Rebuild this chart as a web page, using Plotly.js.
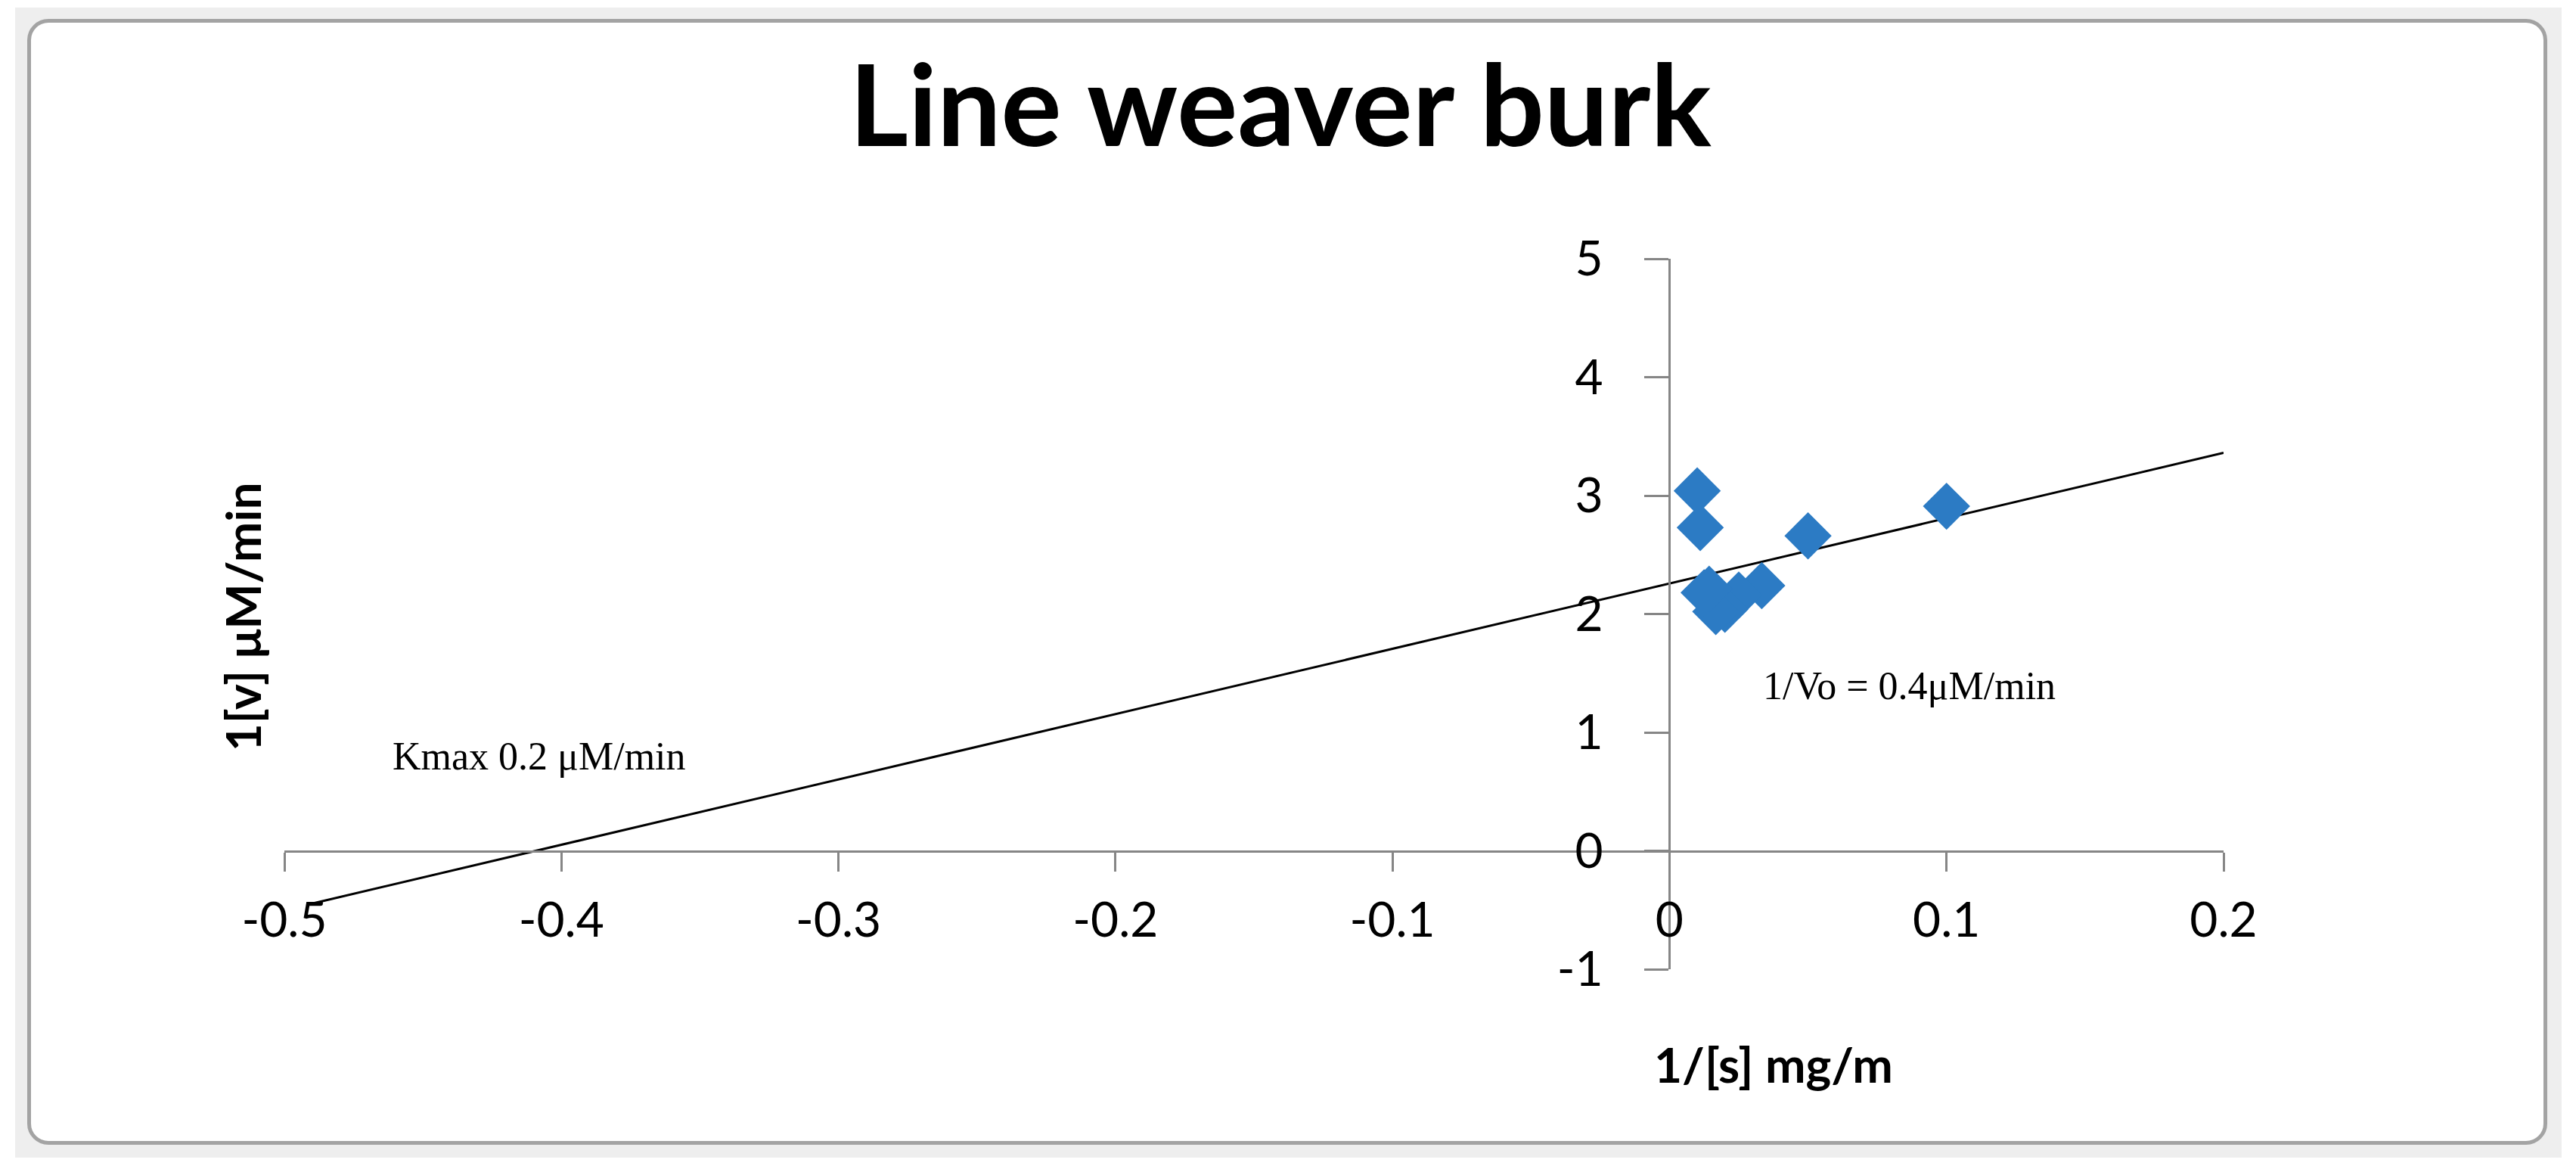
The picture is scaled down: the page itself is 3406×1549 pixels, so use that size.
<!DOCTYPE html>
<html>
<head>
<meta charset="utf-8">
<script src="https://cdn.plot.ly/plotly-3.0.1.min.js"></script>
<style>
    html, body { margin: 0; padding: 0; background: #ffffff; }
    #sheet {
        position: absolute; left: 20px; top: 10px;
        width: 3367px; height: 1520px;
        background: #eeeeee;
    }
    #frame {
        position: absolute; left: 36px; top: 25px;
        width: 3322px; height: 1478px;
        border: 5px solid #a3a3a3; border-radius: 28px;
        background: #ffffff;
    }
    #chart { position: absolute; left: 0; top: 0; width: 3406px; height: 1549px; }
</style>
</head>
<body>
<div id="sheet"></div>
<div id="frame"></div>
<div id="chart"></div>
<script>
// 1/[s] и 1/v
const invS = [0.1, 0.05, 0.0333, 0.025, 0.02, 0.0167, 0.0143, 0.0125, 0.0111, 0.01];
const invV = [2.91, 2.66, 2.24, 2.16, 2.04, 2.02, 2.21, 2.18, 2.73, 3.04];

// прогноз линии тренда назад / вперёд (как в Excel)
const trendBackward = 0.5;
const trendForward = 0.1;

const xRange = [-0.5, 0.2];
const yRange = [-1, 5];
const xTickVals = [-0.5, -0.4, -0.3, -0.2, -0.1, 0, 0.1, 0.2];
const xTickText = ['-0.5', '-0.4', '-0.3', '-0.2', '-0.1', '0', '0.1', '0.2'];
const yTickVals = [-1, 0, 1, 2, 3, 4, 5];
const yTickText = ['-1', '0', '1', '2', '3', '4', '5'];

/**
 * Линейная регрессия (МНК) для линии тренда
 */
function linearFit(xs, ys) {
    const n = xs.length;
    const mx = xs.reduce((a, b) => a + b, 0) / n;
    const my = ys.reduce((a, b) => a + b, 0) / n;
    let sxy = 0, sxx = 0;
    for (let i = 0; i < n; i++) {
        sxy += (xs[i] - mx) * (ys[i] - my);
        sxx += (xs[i] - mx) * (xs[i] - mx);
    }
    const slope = sxy / sxx;
    return { slope: slope, intercept: my - slope * mx };
}

function createLineweaverBurkChart() {
    const fit = linearFit(invS, invV);
    const tx = [Math.min(...invS) - trendBackward, Math.max(...invS) + trendForward];
    const ty = tx.map(x => fit.intercept + fit.slope * x);

    const axisColor = '#868686';

    const data = [
        {
            x: tx,
            y: ty,
            type: 'scatter',
            mode: 'lines',
            line: { color: '#000000', width: 3 },
            hoverinfo: 'skip',
            cliponaxis: false
        },
        {
            x: invS,
            y: invV,
            type: 'scatter',
            mode: 'markers',
            marker: { symbol: 'diamond', size: 48, color: '#2c7bc4' },
            cliponaxis: false
        }
    ];

    const layout = {
        width: 3406,
        height: 1549,
        margin: { l: 376, r: 466, t: 342, b: 268 },
        paper_bgcolor: 'rgba(0,0,0,0)',
        plot_bgcolor: 'rgba(0,0,0,0)',
        showlegend: false,
        title: {
            text: 'Line weaver burk',
            font: { family: 'Lato', size: 150, color: '#000000', weight: 'bold' },
            xref: 'container', x: 0.497,
            yref: 'container', y: 0.909, yanchor: 'middle'
        },
        xaxis: {
            range: xRange,
            anchor: 'free',
            position: (0 - yRange[0]) / (yRange[1] - yRange[0]),
            showgrid: false,
            zeroline: false,
            showline: true,
            linecolor: axisColor,
            linewidth: 3,
            ticks: 'outside',
            ticklen: 25,
            tickwidth: 3,
            tickcolor: axisColor,
            tickvals: xTickVals,
            ticktext: xTickText,
            ticklabelstandoff: 10,
            tickfont: { family: 'Lato', size: 64, color: '#000000' }
        },
        yaxis: {
            range: yRange,
            anchor: 'free',
            position: (0 - xRange[0]) / (xRange[1] - xRange[0]),
            showgrid: false,
            zeroline: false,
            showline: true,
            linecolor: axisColor,
            linewidth: 3,
            ticks: 'outside',
            ticklen: 32,
            tickwidth: 3,
            tickcolor: axisColor,
            tickvals: yTickVals,
            ticktext: yTickText,
            ticklabelstandoff: 42,
            tickfont: { family: 'Lato', size: 64, color: '#000000' }
        },
        annotations: [
            {
                text: '<b>1[v] μM/min</b>',
                xref: 'paper', yref: 'paper',
                x: -0.0218, y: 0.496,
                xanchor: 'center', yanchor: 'middle',
                textangle: -90,
                showarrow: false,
                font: { family: 'Lato', size: 64, color: '#000000' }
            },
            {
                text: '<b>1/[s] mg/m</b>',
                xref: 'paper', yref: 'paper',
                x: 0.768, y: -0.134,
                xanchor: 'center', yanchor: 'middle',
                showarrow: false,
                font: { family: 'Lato', size: 64, color: '#000000' }
            },
            {
                text: 'Kmax 0.2 μM/min',
                x: -0.408, y: 0.80,
                xanchor: 'center', yanchor: 'middle',
                showarrow: false,
                font: { family: 'Liberation Serif', size: 52, color: '#000000' }
            },
            {
                text: '1/Vo = 0.4μM/min',
                x: 0.0866, y: 1.39,
                xanchor: 'center', yanchor: 'middle',
                showarrow: false,
                font: { family: 'Liberation Serif', size: 52, color: '#000000' }
            }
        ]
    };

    Plotly.newPlot('chart', data, layout, { displayModeBar: false, staticPlot: true });
}

document.addEventListener('DOMContentLoaded', createLineweaverBurkChart);
</script>
</body>
</html>
